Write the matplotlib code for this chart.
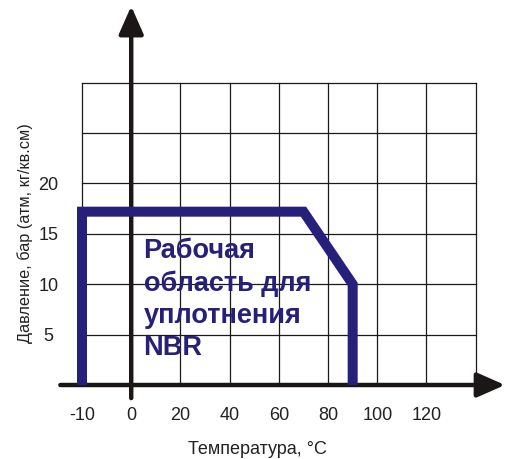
import numpy as np
import matplotlib
matplotlib.use('Agg')
import matplotlib.pyplot as plt

plt.rcParams['font.family'] = ['Liberation Sans', 'DejaVu Sans']

# working area boundary for NBR (temperature, pressure)
temp = [-10, -10, 70, 90, 90]
pressure = [0, 17.2, 17.2, 10, 0]

x_ticks = [-10, 0, 20, 40, 60, 80, 100, 120, 140]
x_labels = ['-10', '0', '20', '40', '60', '80', '100', '120', '']
y_ticks = [0, 5, 10, 15, 20, 25, 30]
y_labels = ['', '5', '10', '15', '20', '', '']

navy = '#27207a'
dark = '#1b1717'


# the chart squeezes the -10..0 cell: 10 degrees per cell below zero, 20 above
def fwd(t):
    t = np.asarray(t, dtype=float)
    return np.where(t < 0, t / 10.0, t / 20.0)


def inv(f):
    f = np.asarray(f, dtype=float)
    return np.where(f < 0, f * 10.0, f * 20.0)


fig = plt.figure(figsize=(5.08, 4.59), dpi=100)
ax = fig.add_axes([82 / 508, 74 / 459, 393.7 / 508, 302.3 / 459])
ax.set_xscale('function', functions=(fwd, inv))
ax.set_xlim(-10, 140)
ax.set_ylim(0, 30)

ax.set_xticks(x_ticks)
ax.set_xticklabels(x_labels)
ax.set_yticks(y_ticks)
ax.set_yticklabels(y_labels)
ax.tick_params(length=0, labelsize=13, colors='#222222')
ax.tick_params(axis='x', pad=16)
ax.tick_params(axis='y', pad=24)
for lab in ax.get_yticklabels():
    lab.set_horizontalalignment('center')

ax.grid(True, color='#1a1a1a', lw=0.9)
for gl in ax.get_xgridlines() + ax.get_ygridlines():
    gl.set_clip_on(False)
for sp in ax.spines.values():
    sp.set_visible(False)

# axes with arrows
arrow = dict(arrowstyle='-|>,head_length=1.7,head_width=0.75', mutation_scale=10,
             lw=3.2, color=dark, shrinkA=0, shrinkB=0)
ax.annotate('', xy=(0, 37.6), xytext=(0, -1.3), arrowprops=arrow,
            annotation_clip=False, zorder=5)
ax.annotate('', xy=(151.9, 0), xytext=(-14.4, 0), arrowprops=arrow,
            annotation_clip=False, zorder=5)

ax.plot(temp, pressure, color=navy, lw=7.2, solid_joinstyle='miter',
        solid_capstyle='butt', clip_on=False, zorder=6)

# baseline of the last line ("NBR")
ax.text(5, 3.0, 'Рабочая\nобласть для\nуплотнения\nNBR', color=navy,
        fontsize=19.5, fontweight='bold', ha='left', va='baseline',
        linespacing=1.3, zorder=7)

fig.text(257.5 / 508, 1 - 449 / 459, 'Температура, °C', fontsize=13,
         ha='center', va='center', color='#222222')
fig.text(25 / 508, 1 - 233 / 459, 'Давление, бар (атм, кг/кв.см)', fontsize=11.7,
         ha='center', va='center', rotation=90, color='#222222')

fig.savefig('out.png', dpi=100)
